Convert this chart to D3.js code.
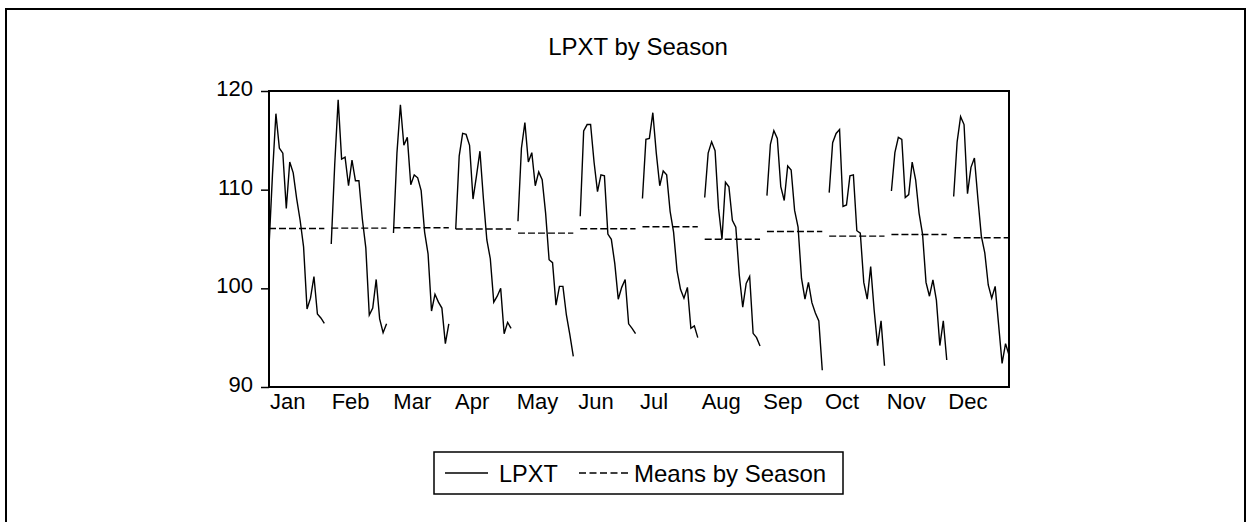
<!DOCTYPE html>
<html>
<head>
<meta charset="utf-8">
<script src="https://cdn.jsdelivr.net/npm/d3@7/dist/d3.min.js"></script>
<style>
  html, body { margin: 0; padding: 0; background: #fff; }
  svg { display: block; font-family: "Liberation Sans", Arial, Helvetica, sans-serif; }
</style>
</head>
<body>
<svg id="chart" width="1246" height="522"></svg>
<script>
// LPXT observations grouped by calendar month (one value per year, oldest first)
const months = ["Jan", "Feb", "Mar", "Apr", "May", "Jun", "Jul", "Aug", "Sep", "Oct", "Nov", "Dec"];
const jan = [104.2, 111.5, 117.7, 114.2, 113.7, 108.1, 112.8, 111.7, 109.1, 106.9, 104.2, 97.9, 99.0, 101.2, 97.4, 97.0, 96.45];
const feb = [104.5, 112.5, 119.1, 113.1, 113.3, 110.4, 113.0, 110.9, 110.9, 107.0, 104.1, 97.3, 98.0, 100.9, 96.9, 95.5, 96.4];
const mar = [105.6, 113.7, 118.6, 114.5, 115.3, 110.5, 111.5, 111.2, 109.9, 105.7, 103.5, 97.7, 99.4, 98.6, 98.0, 94.4, 96.4];
const apr = [106.0, 113.4, 115.7, 115.6, 114.5, 109.05, 111.4, 113.9, 109.1, 104.9, 103.0, 98.6, 99.2, 100.0, 95.4, 96.55, 95.95];
const may = [106.8, 114.2, 116.8, 112.8, 113.75, 110.4, 111.8, 111.0, 107.6, 102.9, 102.6, 98.3, 100.2, 100.2, 97.3, 95.3, 93.1];
const jun = [107.3, 115.95, 116.6, 116.6, 112.8, 109.8, 111.5, 111.4, 105.5, 104.97, 102.5, 98.9, 100.1, 100.9, 96.4, 95.95, 95.4];
const jul = [109.1, 115.1, 115.2, 117.8, 113.7, 110.4, 111.9, 111.5, 107.8, 105.7, 101.8, 99.9, 99.0, 100.1, 95.95, 96.2, 95.0];
const aug = [109.2, 113.7, 114.85, 113.95, 108.1, 104.97, 110.75, 110.3, 106.9, 106.2, 101.35, 98.1, 100.5, 101.2, 95.44, 95.0, 94.16];
const sep = [109.4, 114.6, 115.98, 115.2, 110.3, 108.9, 112.4, 112.0, 107.9, 106.2, 101.0, 98.9, 100.6, 98.55, 97.5, 96.7, 91.7];
const oct = [109.7, 114.76, 115.7, 116.1, 108.3, 108.45, 111.4, 111.5, 105.84, 105.6, 100.6, 98.9, 102.2, 97.8, 94.2, 96.7, 92.16];
const nov = [109.87, 113.75, 115.3, 115.1, 109.2, 109.5, 112.8, 111.0, 107.6, 105.5, 100.6, 99.2, 100.85, 98.8, 94.2, 96.7, 92.74];
const dec = [109.3, 114.85, 117.4, 116.6, 109.6, 112.26, 113.2, 109.1, 105.3, 103.6, 100.34, 99.0, 100.2, 96.3, 92.4, 94.4, 93.24];
const seasonValues = [jan, feb, mar, apr, may, jun, jul, aug, sep, oct, nov, dec];
const yTicks = [90, 100, 110, 120];

const title = "LPXT by Season";
const seriesName = "LPXT";
const meansName = "Means by Season";

// Layout
const W = 1246, H = 522;
const plot = { left: 269, right: 1009, top: 91, bottom: 387 };
const nObs = jan.length;          // observations per season
const slot = nObs + 1;            // one empty step separates seasons
const lastIndex = (months.length - 1) * slot + (nObs - 1);

const svg = d3.select("#chart");

// Outer frame of the graph
svg.append("rect")
  .attr("x", 6).attr("y", 9)
  .attr("width", W - 7).attr("height", H + 40)
  .attr("fill", "none").attr("stroke", "#000").attr("stroke-width", 2);

const x = d3.scaleLinear().domain([0, lastIndex]).range([plot.left, plot.right]);
const y = d3.scaleLinear().domain([90, 120]).range([plot.bottom, plot.top]);
// Even bands for the season names along the bottom
const xLabel = d3.scaleBand().domain(months).range([plot.left, plot.right]);

// Title
svg.append("text")
  .attr("x", (plot.left + plot.right) / 2 - 1)
  .attr("y", 55)
  .attr("text-anchor", "middle")
  .attr("font-size", 24)
  .text(title);

// Y axis (left)
const yAxis = svg.append("g")
  .attr("transform", `translate(${plot.left},0)`)
  .call(d3.axisLeft(y).tickValues(yTicks).tickSize(8).tickPadding(8).tickFormat(d3.format("d")));
yAxis.select(".domain").remove();
yAxis.selectAll(".tick line").attr("stroke", "#000").attr("stroke-width", 1.5);
yAxis.selectAll(".tick text")
  .attr("font-size", 22)
  .attr("font-family", "Liberation Sans, Arial, sans-serif")
  .attr("fill", "#000")
  .attr("dy", "0.2em");

// X axis: season names at the start of each band
const xAxis = svg.append("g")
  .attr("transform", `translate(${-xLabel.bandwidth() / 2},${plot.bottom})`)
  .call(d3.axisBottom(xLabel).tickSize(0).tickPadding(6));
xAxis.select(".domain").remove();
xAxis.selectAll(".tick text")
  .attr("font-size", 22)
  .attr("font-family", "Liberation Sans, Arial, sans-serif")
  .attr("fill", "#000")
  .attr("text-anchor", "start")
  .attr("dx", 1);

// Series lines and seasonal means
const line = d3.line().x(d => x(d.i)).y(d => y(d.v));
seasonValues.forEach((vals, m) => {
  const pts = vals.map((v, j) => ({ i: m * slot + j, v }));
  svg.append("path")
    .datum(pts)
    .attr("d", line)
    .attr("fill", "none")
    .attr("stroke", "#000")
    .attr("stroke-width", 1.4)
    .attr("stroke-linejoin", "miter");

  const mu = d3.mean(vals);
  svg.append("line")
    .attr("x1", x(m * slot)).attr("x2", x(m * slot + nObs - 1))
    .attr("y1", y(mu)).attr("y2", y(mu))
    .attr("stroke", "#000")
    .attr("stroke-width", 1.4)
    .attr("stroke-dasharray", "7,3");
});

// Plot frame
svg.append("rect")
  .attr("x", plot.left).attr("y", plot.top)
  .attr("width", plot.right - plot.left).attr("height", plot.bottom - plot.top)
  .attr("fill", "none").attr("stroke", "#000").attr("stroke-width", 2);

// Legend
const lg = svg.append("g");
lg.append("rect")
  .attr("x", 434).attr("y", 452).attr("width", 409).attr("height", 42)
  .attr("fill", "#fff").attr("stroke", "#000").attr("stroke-width", 1.5);
lg.append("line")
  .attr("x1", 445).attr("x2", 488).attr("y1", 473).attr("y2", 473)
  .attr("stroke", "#000").attr("stroke-width", 1.4);
lg.append("text")
  .attr("x", 499).attr("y", 482)
  .attr("font-size", 23.5)
  .text(seriesName);
lg.append("line")
  .attr("x1", 579).attr("x2", 629).attr("y1", 473).attr("y2", 473)
  .attr("stroke", "#000").attr("stroke-width", 1.4)
  .attr("stroke-dasharray", "7,3.5");
lg.append("text")
  .attr("x", 634).attr("y", 482)
  .attr("font-size", 24)
  .text(meansName);
</script>
</body>
</html>
